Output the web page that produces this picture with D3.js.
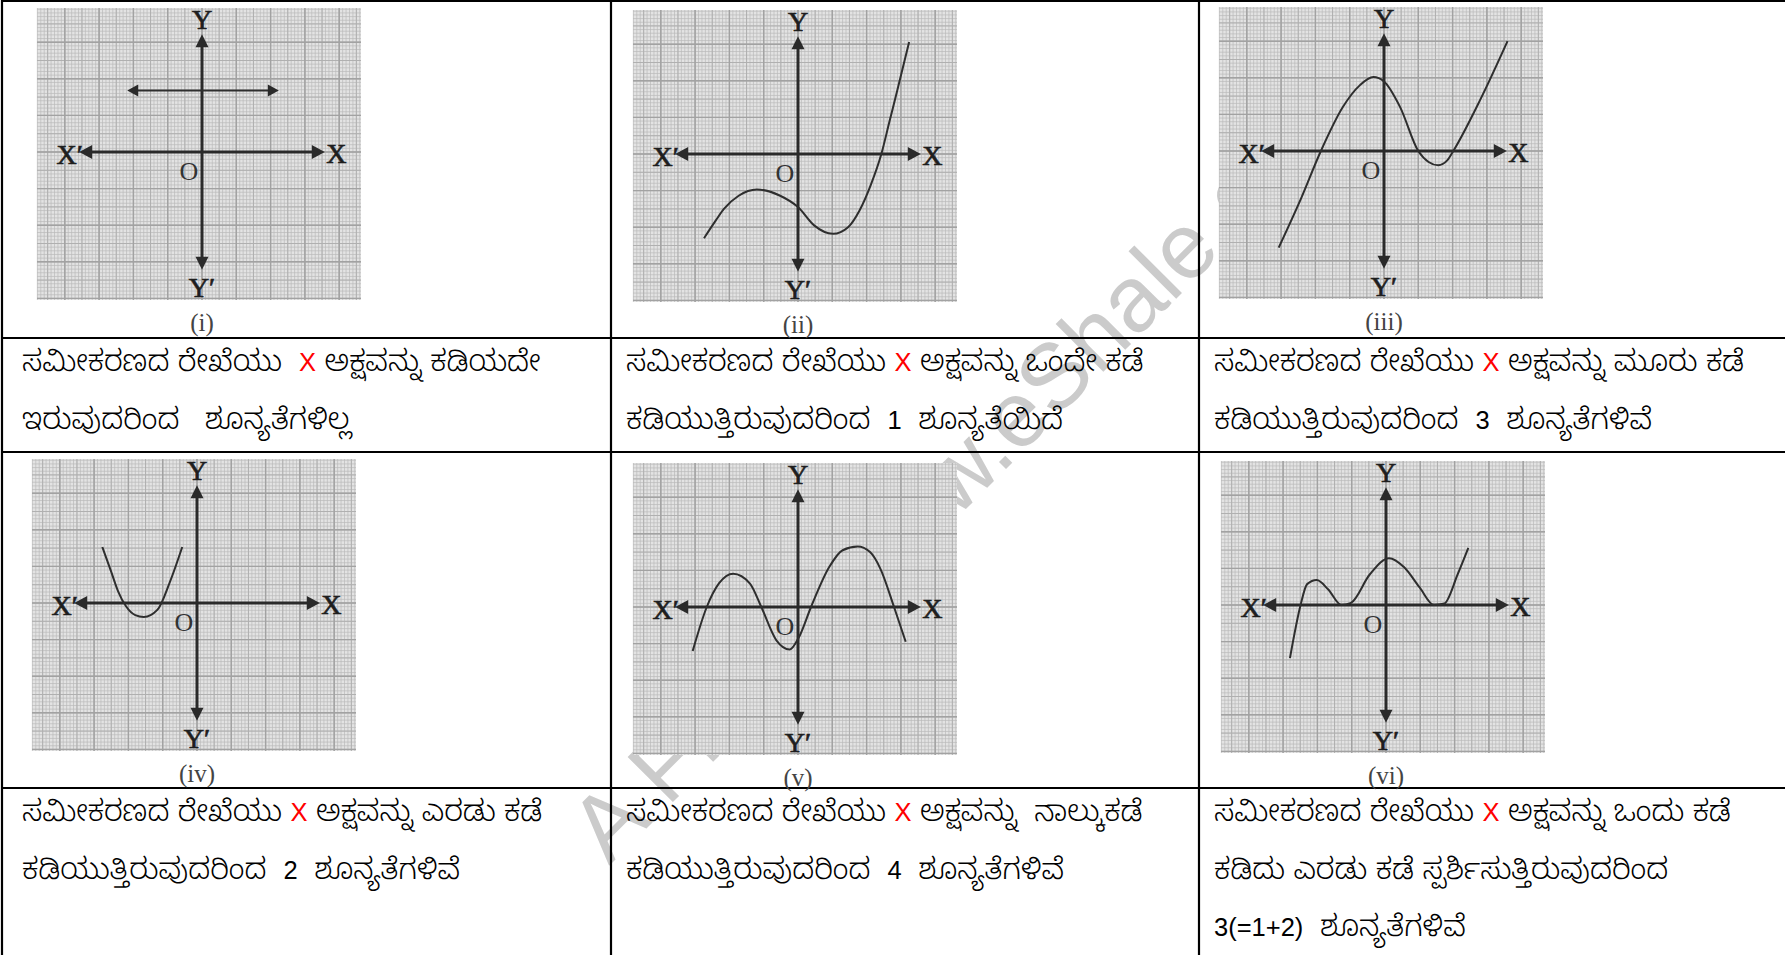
<!DOCTYPE html>
<html>
<head>
<meta charset="utf-8">
<script src="https://cdn.jsdelivr.net/npm/d3@7/dist/d3.min.js"></script>
<style>
    html, body { margin: 0; padding: 0; background: #fff; }
    svg { display: block; }
</style>
</head>
<body>
<div id="chart-container"></div>
<script>
(function () {
    'use strict';

    var width = 1785;
    var height = 955;

    // curves, in grid cells (1 unit = one big square of the graph paper)
    var lineI = [[-2.18, 1.68], [2.24, 1.68]];
    var curveII = [[-2.74, -2.3], [-2.4, -1.82], [-2.16, -1.5], [-1.73, -1.14], [-1.2, -0.97], [-0.52, -1.14],
        [0, -1.45], [0.47, -1.95], [1.02, -2.18], [1.46, -2.0], [1.79, -1.55], [2.12, -0.85], [2.43, 0],
        [2.67, 0.9], [2.89, 1.72], [3.24, 3.06]];
    var curveIII = [[-3.07, -2.64], [-2.42, -1.3], [-1.84, 0], [-1.2, 1.2], [-0.7, 1.8], [-0.31, 2.02],
        [0, 1.9], [0.47, 1.2], [1.0, 0], [1.3, -0.3], [1.58, -0.39], [1.85, -0.25], [2.02, 0], [2.8, 1.39],
        [3.6, 3.0]];
    var curveIV = [[-2.76, 1.53], [-2.5, 0.85], [-2.3, 0.32], [-2.07, -0.09], [-1.8, -0.33], [-1.55, -0.38],
        [-1.15, -0.18], [-0.8, 0.55], [-0.43, 1.53]];
    var curveV = [[-3.07, -1.2], [-2.66, 0], [-2.3, 0.65], [-1.89, 0.91], [-1.4, 0.64], [-1.07, 0],
        [-0.63, -0.91], [-0.24, -1.16], [0.03, -0.82], [0.38, 0], [0.91, 1.09], [1.3, 1.55], [1.74, 1.65],
        [2.1, 1.5], [2.4, 1.05], [2.8, 0], [3.14, -0.95]];
    var curveVI = [[-2.8, -1.45], [-2.49, 0], [-2.3, 0.57], [-2.02, 0.68], [-1.69, 0.43], [-1.3, 0],
        [-1.02, 0.06], [-0.47, 0.84], [0.09, 1.28], [0.53, 1.03], [0.98, 0.48], [1.4, 0], [1.7, 0.04],
        [2.09, 0.84], [2.4, 1.56]];

    var captions = ['(i)', '(ii)', '(iii)', '(iv)', '(v)', '(vi)'];
    var curves = [null, curveII, curveIII, curveIV, curveV, curveVI];

    var descTop = [
        ['ಸಮೀಕರಣದ ರೇಖೆಯು  X ಅಕ್ಷವನ್ನು ಕಡಿಯದೇ', 'ಇರುವುದರಿಂದ   ಶೂನ್ಯತೆಗಳಿಲ್ಲ'],
        ['ಸಮೀಕರಣದ ರೇಖೆಯು X ಅಕ್ಷವನ್ನು ಒಂದೇ ಕಡೆ', 'ಕಡಿಯುತ್ತಿರುವುದರಿಂದ  1  ಶೂನ್ಯತೆಯಿದೆ'],
        ['ಸಮೀಕರಣದ ರೇಖೆಯು X ಅಕ್ಷವನ್ನು ಮೂರು ಕಡೆ', 'ಕಡಿಯುತ್ತಿರುವುದರಿಂದ  3  ಶೂನ್ಯತೆಗಳಿವೆ']
    ];
    var descBottom = [
        ['ಸಮೀಕರಣದ ರೇಖೆಯು X ಅಕ್ಷವನ್ನು ಎರಡು ಕಡೆ', 'ಕಡಿಯುತ್ತಿರುವುದರಿಂದ  2  ಶೂನ್ಯತೆಗಳಿವೆ'],
        ['ಸಮೀಕರಣದ ರೇಖೆಯು X ಅಕ್ಷವನ್ನು  ನಾಲ್ಕುಕಡೆ', 'ಕಡಿಯುತ್ತಿರುವುದರಿಂದ  4  ಶೂನ್ಯತೆಗಳಿವೆ'],
        ['ಸಮೀಕರಣದ ರೇಖೆಯು X ಅಕ್ಷವನ್ನು ಒಂದು ಕಡೆ', 'ಕಡಿದು ಎರಡು ಕಡೆ ಸ್ಪರ್ಶಿಸುತ್ತಿರುವುದರಿಂದ', '3(=1+2)  ಶೂನ್ಯತೆಗಳಿವೆ']
    ];

    var watermark = 'A FREE www.eShale.org';

    // layout
    var colEdges = [2, 611, 1199];
    var rowEdges = [1, 338, 452, 788];
    var textX = [22, 626, 1214];
    var panelPos = [[37, 8], [633, 10], [1219, 7], [32, 459], [633, 463], [1221, 461]];
    var panelW = 324, panelH = 292, originX = 165, originY = 144;
    var cellX = 34.3, cellY = 36.6;

    var kannadaFont = '"Noto Sans Kannada", "Lohit Kannada", "Noto Serif Kannada", "Tunga", sans-serif';
    var latinFont = '"Liberation Sans", Arial, sans-serif';
    var serifFont = '"Liberation Serif", "Times New Roman", serif';

    var svg = d3.select('#chart-container')
        .append('svg')
        .attr('width', width)
        .attr('height', height);

    svg.append('rect').attr('width', width).attr('height', height).attr('fill', '#fff');

    // watermark sits under everything
    svg.append('text')
        .attr('transform', 'translate(609,866) rotate(-45)')
        .attr('font-family', latinFont)
        .attr('font-size', 93)
        .attr('fill', '#cbcbcb')
        .style('white-space', 'pre')
        .text(watermark);

    // table rules
    var rules = svg.append('g').attr('stroke', '#000').attr('stroke-width', 2.2);
    rules.selectAll('line.h')
        .data(rowEdges)
        .enter()
        .append('line')
        .attr('x1', 1).attr('x2', width)
        .attr('y1', function (d) { return d; })
        .attr('y2', function (d) { return d; });
    rules.selectAll('line.v')
        .data(colEdges)
        .enter()
        .append('line')
        .attr('y1', 0).attr('y2', height)
        .attr('x1', function (d) { return d; })
        .attr('x2', function (d) { return d; });

    // descriptions
    function writeCell(lines, col, top) {
        var t = svg.append('g');
        lines.forEach(function (str, i) {
            var txt = t.append('text')
                .attr('x', textX[col])
                .attr('y', top + 33 + i * 57.5)
                .attr('font-family', kannadaFont)
                .attr('font-size', 29.5)
                .attr('font-weight', 300)
                .attr('fill', '#000')
                .style('white-space', 'pre');
            // split latin bits (X, digits, signs) from the kannada
            var parts = str.split(/([X0-9()=+]+)/);
            parts.forEach(function (p) {
                if (!p) return;
                var latin = /^[X0-9()=+]+$/.test(p);
                txt.append('tspan')
                    .attr('font-family', latin ? latinFont : kannadaFont)
                    .attr('font-size', latin ? 25.5 : 29.5)
                    .attr('fill', p === 'X' ? '#ff0000' : '#000')
                    .text(p);
            });
        });
    }
    descTop.forEach(function (lines, c) { writeCell(lines, c, rowEdges[1]); });
    descBottom.forEach(function (lines, c) { writeCell(lines, c, rowEdges[3]); });

    // graph-paper panels
    var x = d3.scaleLinear()
        .domain([-originX / cellX, (panelW - originX) / cellX])
        .range([0, panelW]);
    var y = d3.scaleLinear()
        .domain([originY / cellY, -(panelH - originY) / cellY])
        .range([0, panelH]);

    var line = d3.line()
        .x(function (d) { return x(d[0]); })
        .y(function (d) { return y(d[1]); })
        .curve(d3.curveMonotoneX);

    function ticks(scale, step) {
        var dom = scale.domain();
        var lo = Math.min(dom[0], dom[1]), hi = Math.max(dom[0], dom[1]);
        return d3.range(Math.ceil(lo / step), Math.floor(hi / step) + 1).map(function (k) {
            return Math.round(k * step * 10) / 10;
        });
    }

    function arrow(g, tip, dir, len, half) {
        // dir: unit vector the arrow points along
        var bx = tip[0] - dir[0] * len, by = tip[1] - dir[1] * len;
        var nx = -dir[1] * half, ny = dir[0] * half;
        g.append('path')
            .attr('d', 'M' + tip[0] + ',' + tip[1] + 'L' + (bx + nx) + ',' + (by + ny) +
                'L' + (bx - nx) + ',' + (by - ny) + 'Z')
            .attr('fill', '#2a2a2a');
    }

    function gridLines(g, step, colour, w) {
        var grp = g.append('g').attr('stroke', colour).attr('stroke-width', w);
        grp.selectAll('line.vx')
            .data(ticks(x, step))
            .enter().append('line')
            .attr('x1', function (d) { return x(d); }).attr('x2', function (d) { return x(d); })
            .attr('y1', 0).attr('y2', panelH);
        grp.selectAll('line.hy')
            .data(ticks(y, step))
            .enter().append('line')
            .attr('y1', function (d) { return y(d); }).attr('y2', function (d) { return y(d); })
            .attr('x1', 0).attr('x2', panelW);
    }

    function drawPanel(i) {
        var g = svg.append('g')
            .attr('class', 'panel')
            .attr('transform', 'translate(' + panelPos[i][0] + ',' + panelPos[i][1] + ')');

        g.append('rect')
            .attr('width', panelW)
            .attr('height', panelH)
            .attr('fill', '#e3e3e3');

        gridLines(g, 0.1, '#bababa', 0.7);
        gridLines(g, 0.5, '#b0b0b0', 1);
        gridLines(g, 1, '#a2a2a2', 1.4);

        // axes with arrow heads
        var ax = g.append('g');
        ax.append('line')
            .attr('x1', x(-3.4)).attr('x2', x(3.4))
            .attr('y1', y(0)).attr('y2', y(0))
            .attr('stroke', '#2a2a2a').attr('stroke-width', 3);
        ax.append('line')
            .attr('x1', x(0)).attr('x2', x(0))
            .attr('y1', y(3.05)).attr('y2', y(-3.05))
            .attr('stroke', '#2a2a2a').attr('stroke-width', 3);
        arrow(ax, [x(3.58), y(0)], [1, 0], 13, 7);
        arrow(ax, [x(-3.58), y(0)], [-1, 0], 13, 7);
        arrow(ax, [x(0), y(3.22)], [0, -1], 13, 6.5);
        arrow(ax, [x(0), y(-3.22)], [0, 1], 13, 6.5);

        var lab = g.append('g')
            .attr('font-family', serifFont)
            .attr('font-size', 28)
            .attr('fill', '#1e1e1e')
            .attr('stroke', '#1e1e1e')
            .attr('stroke-width', 0.7)
            .attr('text-anchor', 'middle')
            .attr('dominant-baseline', 'central');
        lab.append('text').attr('x', x(0)).attr('y', y(3.62)).text('Y');
        lab.append('text').attr('x', x(0)).attr('y', y(-3.7)).text('Y\u2032');
        lab.append('text').attr('x', x(-3.86)).attr('y', y(-0.08)).text('X\u2032');
        lab.append('text').attr('x', x(3.92)).attr('y', y(-0.05)).text('X');
        lab.append('text').attr('x', x(-0.38)).attr('y', y(-0.52))
            .attr('font-size', 26).attr('stroke-width', 0).attr('fill', '#333').text('O');

        if (i === 0) {
            var l = g.append('g');
            l.append('line')
                .attr('x1', x(lineI[0][0]) + 8).attr('x2', x(lineI[1][0]) - 8)
                .attr('y1', y(lineI[0][1])).attr('y2', y(lineI[1][1]))
                .attr('stroke', '#2e2e2e').attr('stroke-width', 1.8);
            arrow(l, [x(lineI[0][0]), y(lineI[0][1])], [-1, 0], 11, 6);
            arrow(l, [x(lineI[1][0]), y(lineI[1][1])], [1, 0], 11, 6);
        } else {
            g.append('path')
                .datum(curves[i])
                .attr('d', line)
                .attr('fill', 'none')
                .attr('stroke', '#2e2e2e')
                .attr('stroke-width', 2);
        }

        svg.append('text')
            .attr('x', panelPos[i][0] + x(0))
            .attr('y', panelPos[i][1] + 314)
            .attr('font-family', serifFont)
            .attr('font-size', 25)
            .attr('fill', '#444')
            .attr('text-anchor', 'middle')
            .attr('dominant-baseline', 'central')
            .text(captions[i]);
    }

    captions.forEach(function (c, i) { drawPanel(i); });
}());
</script>
</body>
</html>
